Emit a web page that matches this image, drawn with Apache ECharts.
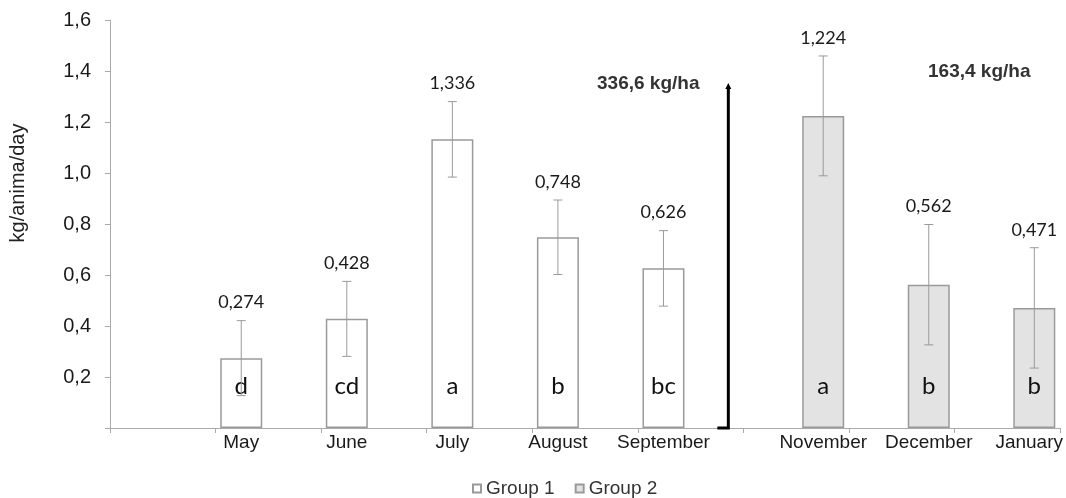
<!DOCTYPE html>
<html>
<head>
<meta charset="utf-8">
<style>
  html, body { margin: 0; padding: 0; background: #fff; }
  #chart { width: 1066px; height: 498px; }
</style>
<script src="https://cdn.jsdelivr.net/npm/echarts@6/dist/echarts.min.js"></script>
</head>
<body>
<div id="chart"></div>
<script>
// data
const months = ['', 'May', 'June', 'July', 'August', 'September', 'November', 'December', 'January'];
const group1 = [null, 0.274, 0.428, 1.132, 0.748, 0.626, null, null, null];
const group2 = [null, null, null, null, null, null, 1.224, 0.562, 0.471];
const errors = [null, 0.147, 0.147, 0.148, 0.146, 0.148, 0.235, 0.236, 0.236];
const valueLabels = ['', '0,274', '0,428', '1,336', '0,748', '0,626', '1,224', '0,562', '0,471'];
const letters = ['', 'd', 'cd', 'a', 'b', 'bc', 'a', 'b', 'b'];
const yTicks = [0, 0.2, 0.4, 0.6, 0.8, 1.0, 1.2, 1.4, 1.6];

const BAR_W = 42;
const BAR_GAP = 0.29;
const AXIS_FONT = '"Liberation Sans", Arial, sans-serif';
const NUM_FONT = 'Lato, "Open Sans", sans-serif';
const MONTH_FONT = '19px ' + AXIS_FONT;

// one row per drawn bar: [category, mean, error, group]
const errRows = [];
months.forEach((m, i) => {
  if (group1[i] != null) errRows.push([i, group1[i], errors[i], 0]);
  if (group2[i] != null) errRows.push([i, group2[i], errors[i], 1]);
});

// used to keep the last month label inside the page
const measureCtx = document.createElement('canvas').getContext('2d');
measureCtx.font = MONTH_FONT;

const chart = echarts.init(document.getElementById('chart'));

function renderErr(params, api) {
  const i = api.value(0);
  const mean = api.value(1);
  const err = api.value(2);
  const grp = api.value(3);
  const off = (grp === 0 ? -1 : 1) * BAR_W * (1 + BAR_GAP) / 2;
  const top = api.coord([i, mean + err]);
  const bot = api.coord([i, mean - err]);
  const base = api.coord([i, 0]);
  const x = top[0] + off;
  const halfW = measureCtx.measureText(months[i]).width / 2;
  const labelX = Math.min(x, api.getWidth() - 3 - halfW);
  const line = { stroke: '#9a9a9a', lineWidth: 1 };
  return {
    type: 'group',
    children: [
      { type: 'line', shape: { x1: x, y1: top[1], x2: x, y2: bot[1] }, style: line },
      { type: 'line', shape: { x1: x - 4.5, y1: top[1], x2: x + 4.5, y2: top[1] }, style: line },
      { type: 'line', shape: { x1: x - 4.5, y1: bot[1], x2: x + 4.5, y2: bot[1] }, style: line },
      {
        type: 'text',
        style: {
          x: x, y: top[1] - 18, text: valueLabels[i],
          align: 'center', verticalAlign: 'middle',
          font: '18px ' + NUM_FONT, fill: '#1a1a1a'
        }
      },
      {
        type: 'text',
        style: {
          x: labelX, y: base[1] + 15, text: months[i],
          align: 'center', verticalAlign: 'middle',
          font: MONTH_FONT, fill: '#1a1a1a'
        }
      }
    ]
  };
}

const letterLabel = {
  show: true,
  position: 'insideBottom',
  distance: 30,
  fontFamily: NUM_FONT,
  fontSize: 24,
  color: '#111',
  formatter: (p) => letters[p.dataIndex]
};

chart.setOption({
  animation: false,
  backgroundColor: '#fff',
  grid: { left: 110, right: 6, top: 20, bottom: 70 },
  legend: {
    data: ['Group 1', 'Group 2'],
    left: 467,
    top: 474,
    icon: 'rect',
    itemWidth: 8,
    itemHeight: 8,
    itemGap: 20,
    textStyle: { fontFamily: AXIS_FONT, fontSize: 19, color: '#333' }
  },
  xAxis: {
    type: 'category',
    data: months,
    axisLine: { lineStyle: { color: '#aaa' } },
    axisTick: { show: true, length: 5, lineStyle: { color: '#aaa' } },
    axisLabel: { show: false },
    splitLine: { show: false }
  },
  yAxis: {
    type: 'value',
    min: 0,
    max: 1.6,
    interval: 0.2,
    name: 'kg/anima/day',
    nameLocation: 'middle',
    nameGap: 82,
    nameTextStyle: {
      fontFamily: AXIS_FONT,
      fontSize: 20,
      color: '#222',
      padding: [0, 0, 0, 82]
    },
    axisLine: { show: true, lineStyle: { color: '#aaa' } },
    axisTick: { show: true, length: 5, lineStyle: { color: '#aaa' } },
    axisLabel: {
      margin: 19,
      fontFamily: AXIS_FONT,
      fontSize: 20,
      color: '#1a1a1a',
      formatter: (v) => {
        const t = yTicks.find((k) => Math.abs(k - v) < 1e-6);
        return t ? t.toFixed(1).replace('.', ',') : '';
      }
    },
    splitLine: { show: false }
  },
  series: [
    {
      name: 'Group 1',
      type: 'bar',
      data: group1,
      barWidth: BAR_W,
      barGap: (BAR_GAP * 100) + '%',
      itemStyle: { color: '#fff', borderColor: '#9a9a9a', borderWidth: 1.5 },
      label: letterLabel
    },
    {
      name: 'Group 2',
      type: 'bar',
      data: group2,
      barWidth: BAR_W,
      barGap: (BAR_GAP * 100) + '%',
      itemStyle: { color: '#e3e3e3', borderColor: '#9a9a9a', borderWidth: 1.5 },
      label: letterLabel
    },
    {
      name: 'err',
      type: 'custom',
      data: errRows,
      renderItem: renderErr,
      z: 5,
      silent: true
    }
  ]
});

// annotations: the bracket between the two periods and the kg/ha totals
const yBase = chart.convertToPixel({ yAxisIndex: 0 }, 0);
const yTopBracket = chart.convertToPixel({ yAxisIndex: 0 }, 1.345);
const xSep = chart.convertToPixel({ xAxisIndex: 0 }, 'September');
const xNov = chart.convertToPixel({ xAxisIndex: 0 }, 'November');
const xBr = (xSep + xNov) / 2 - 15;

chart.setOption({
  graphic: [
    {
      type: 'polyline',
      shape: { points: [[xBr, yTopBracket + 2], [xBr, yBase], [xBr - 11, yBase]] },
      style: { stroke: '#000', lineWidth: 3, fill: null },
      z: 10
    },
    {
      type: 'polygon',
      shape: { points: [[xBr - 3, yTopBracket + 4], [xBr, yTopBracket - 2], [xBr + 3, yTopBracket + 4]] },
      style: { fill: '#000' },
      z: 10
    },
    {
      type: 'text',
      left: 597,
      top: 74,
      style: { text: '336,6 kg/ha', font: 'bold 19px ' + AXIS_FONT, fill: '#333' }
    },
    {
      type: 'text',
      left: 928,
      top: 62,
      style: { text: '163,4 kg/ha', font: 'bold 19px ' + AXIS_FONT, fill: '#333' }
    }
  ]
});
</script>
</body>
</html>
